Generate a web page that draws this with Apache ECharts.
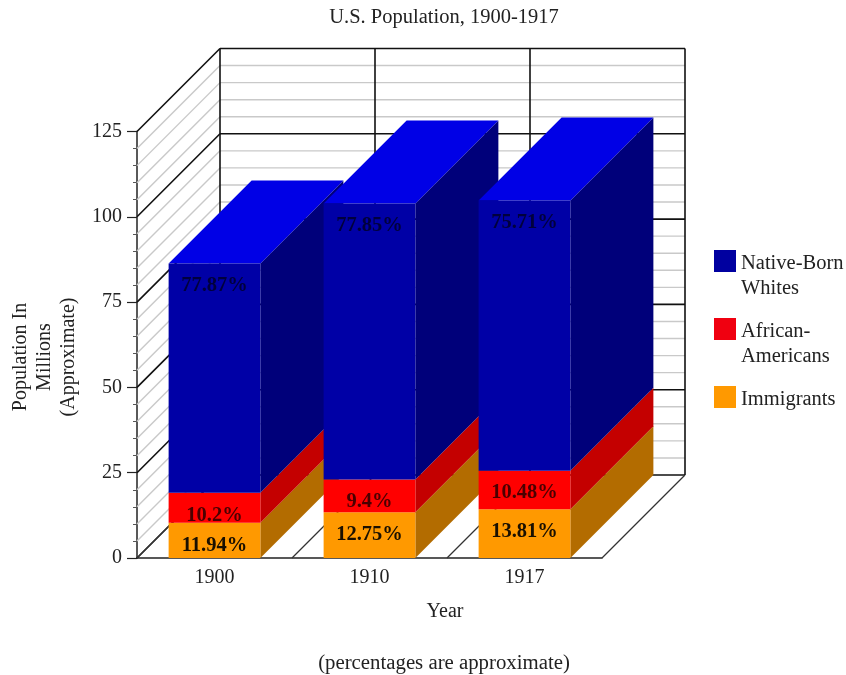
<!DOCTYPE html>
<html><head><meta charset="utf-8">
<style>html,body{margin:0;padding:0;background:#fff}#c{width:846px;height:675px}</style>
<script src="https://cdn.jsdelivr.net/npm/echarts@6/dist/echarts.min.js"></script>
</head><body><div id="c"></div>
<script>
const years = ['1900', '1910', '1917'];
const immigrants = [10.3, 13.4, 14.3];
const africanAmericans = [8.8, 9.6, 11.3];
const nativeWhites = [67.2, 80.9, 79.2];
const immigrantLabels = ['11.94%', '12.75%', '13.81%'];
const africanLabels = ['10.2%', '9.4%', '10.48%'];
const nativeLabels = ['77.87%', '77.85%', '75.71%'];
const minorTicks = [5,10,15,20,30,35,40,45,55,60,65,70,80,85,90,95,105,110,115,120];
const majorTicks = [0,25,50,75,100,125];

const FONT = '"Liberation Serif","Times New Roman",serif';
const TXT = '#222';
const DEPTH = 83;
const BAR_FRAC = 0.592;

const stacks = [
  {name:'Immigrants', values:immigrants, labels:immigrantLabels, front:'#ff9900', side:'#b36c00', lab:'#1a1000'},
  {name:'African-\nAmericans', values:africanAmericans, labels:africanLabels, front:'#ff0000', side:'#c40000', lab:'#4a0000'},
  {name:'Native-Born\nWhites', values:nativeWhites, labels:nativeLabels, front:'#0000a6', side:'#00007a', lab:'#00003c', top:'#0000e6'}
];

function line(x1,y1,x2,y2,stroke,w){
  return {type:'line',shape:{x1,y1,x2,y2},style:{stroke,lineWidth:w,fill:null}};
}
function renderWalls(params, api){
  const band = api.size([1,0])[0];
  const p0 = api.coord([0,0]);
  const left = p0[0]-band/2, floor = p0[1];
  const right = left+band*years.length;
  const kids = [];
  const yOf = v => api.coord([0,v])[1];
  const depthLine = (v,c,w) => {
    const y = yOf(v);
    kids.push(line(left,y,left+DEPTH,y-DEPTH,c,w));
    kids.push(line(left+DEPTH,y-DEPTH,right+DEPTH,y-DEPTH,c,w));
  };
  minorTicks.forEach(v => depthLine(v,'#c9c9c9',1.4));
  majorTicks.forEach(v => depthLine(v,'#111',1.6));
  for(let i=0;i<=years.length;i++){
    const x = left+band*i;
    kids.push(line(x,floor,x+DEPTH,floor-DEPTH,'#333',1.2));
    kids.push(line(x+DEPTH,floor-DEPTH,x+DEPTH,yOf(125)-DEPTH,'#111',1.6));
  }
  return {type:'group',children:kids};
}
function sideRender(top,side){
  return function(params, api){
    const band = api.size([1,0])[0];
    const w = band*BAR_FRAC;
    const i = api.value(0);
    const b = api.coord([i,api.value(1)]);
    const t = api.coord([i,api.value(2)]);
    const xl = b[0]-w/2, xr = b[0]+w/2;
    const kids = [{type:'polygon',shape:{points:[[xr,t[1]],[xr+DEPTH,t[1]-DEPTH],[xr+DEPTH,b[1]-DEPTH],[xr,b[1]]]},style:{fill:side}}];
    if(top) kids.push({type:'polygon',shape:{points:[[xl,t[1]],[xl+DEPTH,t[1]-DEPTH],[xr+DEPTH,t[1]-DEPTH],[xr,t[1]]]},style:{fill:top}});
    return {type:'group',children:kids};
  };
}
const series = [{type:'custom',name:'walls',silent:true,z:1,clip:false,data:[[0,0]],renderItem:renderWalls,tooltip:{show:false}}];
const running = years.map(()=>0);
stacks.forEach(s=>{
  const data = s.values.map((v,i)=>{const base=running[i];running[i]+=v;return [i,base,running[i]];});
  series.push({type:'custom',name:s.name,z:2,clip:false,data,renderItem:sideRender(s.top,s.side),itemStyle:{color:s.front},encode:{x:0,y:2}});
});
stacks.forEach(s=>{
  series.push({type:'bar',name:s.name,stack:'total',z:3,barWidth:(BAR_FRAC*100)+'%',data:s.values,
    itemStyle:{color:s.front},
    label:{show:true,position:'insideTop',distance:12,fontFamily:FONT,fontWeight:'bold',fontSize:20.5,color:s.lab,
      formatter:p=>s.labels[p.dataIndex]}});
});

const legendText = {fontFamily:FONT,fontSize:20.5,color:TXT,lineHeight:25};
const chart = echarts.init(document.getElementById('c'),null,{renderer:'canvas'});
chart.setOption({
  animation:false,
  backgroundColor:'#fff',
  title:[
    {text:'U.S. Population, 1900-1917',left:439,top:2,textAlign:'center',textStyle:{fontFamily:FONT,fontSize:20.5,fontWeight:'normal',color:TXT}},
    {text:'(percentages are approximate)',left:439,top:648,textAlign:'center',textStyle:{fontFamily:FONT,fontSize:20.8,fontWeight:'normal',color:TXT}}
  ],
  graphic:[
    {type:'text',x:445,y:612,z:5,style:{text:'Year',font:"20px 'Liberation Serif',serif",fill:TXT,align:'center',verticalAlign:'middle'}},
    {type:'text',x:44.5,y:357,rotation:Math.PI/2,z:5,style:{text:'Population In\nMillions\n(Approximate)',font:"20px 'Liberation Serif',serif",lineHeight:24,fill:TXT,align:'center',verticalAlign:'middle'}}
  ],
  legend:{
    orient:'vertical',left:709,top:216,icon:'rect',itemWidth:22,itemHeight:22,itemGap:-12,itemStyle:{borderWidth:0},
    textStyle:Object.assign({},legendText,{rich:{gap:{fontSize:10,lineHeight:30},t:legendText}}),
    formatter:n=>{
      const parts=n.split('\n');
      if(parts.length<2) parts.push(' ');
      return '{gap| }\n'+parts.map(p=>'{t|'+p+'}').join('\n');
    },
    data:[
      {name:'Native-Born\nWhites',itemStyle:{color:'#0000a0'}},
      {name:'African-\nAmericans',itemStyle:{color:'#f00010'}},
      {name:'Immigrants'}
    ]
  },
  grid:{left:137,top:131.5,width:465,height:426.5,outerBoundsMode:'none'},
  xAxis:{type:'category',data:years,
    axisLine:{lineStyle:{color:'#222',width:1.5}},axisTick:{length:9,lineStyle:{color:'#222',width:1.2}},
    axisLabel:{fontFamily:FONT,fontSize:20,color:TXT,margin:10},splitLine:{show:false}},
  yAxis:{type:'value',min:0,max:125,interval:25,
    axisLine:{show:true,lineStyle:{color:'#222',width:1.5}},axisTick:{show:true,length:10,lineStyle:{color:'#222',width:1.2}},
    minorTick:{show:true,splitNumber:5,length:4,lineStyle:{color:'#555',width:1}},
    axisLabel:{fontFamily:FONT,fontSize:20,color:TXT,margin:15},splitLine:{show:false}},
  series
});
</script></body></html>
